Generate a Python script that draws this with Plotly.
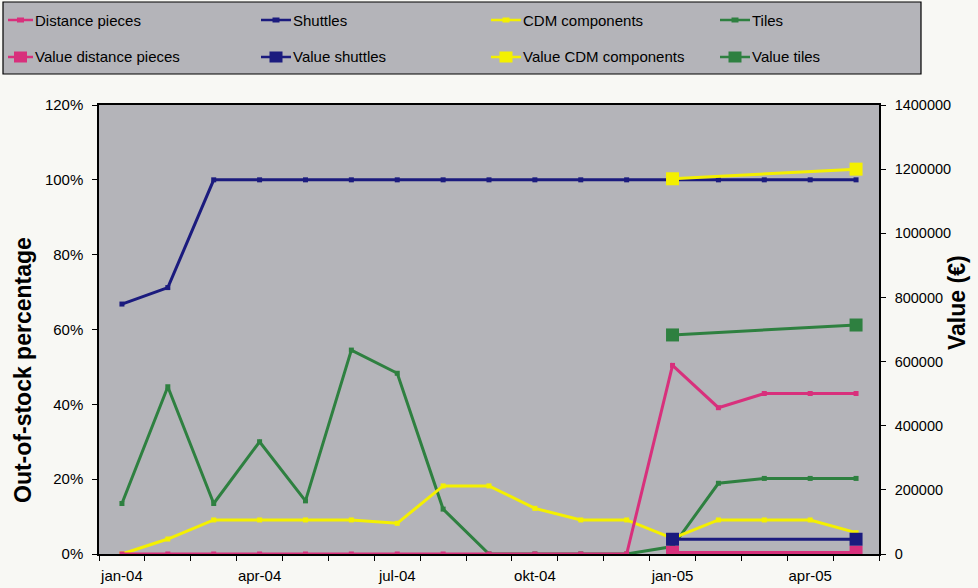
import plotly.graph_objects as go

# Monthly out-of-stock percentages per product group
months = ["jan-04", "feb-04", "mrt-04", "apr-04", "mei-04", "jun-04", "jul-04", "aug-04",
          "sep-04", "okt-04", "nov-04", "dec-04", "jan-05", "feb-05", "mrt-05", "apr-05", "mei-05"]
distance_pieces = [0, 0, 0, 0, 0, 0, 0, 0, 0, 0, 0, 0, 0.504, 0.391, 0.429, 0.429, 0.429]
shuttles = [0.668, 0.712, 1.0, 1.0, 1.0, 1.0, 1.0, 1.0, 1.0, 1.0, 1.0, 1.0, 1.0, 1.0, 1.0, 1.0, 1.0]
cdm_components = [0, 0.04, 0.091, 0.091, 0.091, 0.091, 0.082, 0.182, 0.182, 0.122, 0.091,
                  0.091, 0.042, 0.091, 0.091, 0.091, 0.057]
tiles = [0.135, 0.447, 0.135, 0.30, 0.142, 0.545, 0.483, 0.12, 0, 0, 0, 0, 0.02,
         0.189, 0.202, 0.202, 0.202]

# Stock value (EUR) at the two measurement moments
value_months = ["jan-05", "mei-05"]
value_distance_pieces = [5000, 5000]
value_shuttles = [46000, 46000]
value_cdm_components = [1170000, 1200000]
value_tiles = [683000, 714000]

label_months = months[::3]

PINK = "#D8307C"
NAVY = "#1B1B7E"
YELLOW = "#F4F000"
GREEN = "#2E8040"
PLOT_BG = "#B4B4B9"
FONT = "Liberation Sans, Arial, sans-serif"

W, H = 978, 588
L, R, T, B = 99, 99, 105, 34
PW, PH = W - L - R, H - T - B

idx = {m: i for i, m in enumerate(months)}
x_all = [idx[m] for m in months]
x_val = [idx[m] for m in value_months]

pct_series = [
    ("Distance pieces", distance_pieces, PINK),
    ("Shuttles", shuttles, NAVY),
    ("CDM components", cdm_components, YELLOW),
    ("Tiles", tiles, GREEN),
]
val_series = [
    ("Value distance pieces", value_distance_pieces, PINK),
    ("Value shuttles", value_shuttles, NAVY),
    ("Value CDM components", value_cdm_components, YELLOW),
    ("Value tiles", value_tiles, GREEN),
]

fig = go.Figure()

# percentage lines (left axis), drawn back to front
for name, ys, col in reversed(pct_series):
    fig.add_trace(go.Scatter(
        x=x_all, y=ys, name=name, mode="lines+markers",
        line=dict(color=col, width=3),
        marker=dict(symbol="square", size=5, color=col),
        yaxis="y",
    ))

# value lines (right axis)
for name, ys, col in reversed(val_series):
    fig.add_trace(go.Scatter(
        x=x_val, y=ys, name=name, mode="lines+markers",
        line=dict(color=col, width=3),
        marker=dict(symbol="square", size=13, color=col),
        yaxis="y2",
    ))


def paper_x(px):
    return (px - L) / PW


def paper_y(py):
    return (H - B - py) / PH


# legend box with 4 columns x 2 rows
shapes = [dict(
    type="rect", xref="paper", yref="paper",
    x0=paper_x(3), x1=paper_x(921), y0=paper_y(74), y1=paper_y(2),
    line=dict(color="black", width=1.2), fillcolor=PLOT_BG, layer="below",
)]
annotations = []
col_text_x = [35, 293, 523, 752]
row_y = [20, 57]
for row, group in enumerate([pct_series, val_series]):
    for col, (name, _, color) in enumerate(group):
        tx = col_text_x[col]
        ty = row_y[row]
        x0, x1 = tx - 32, tx - 2
        if col == 0:
            x0 = 8
        shapes.append(dict(
            type="line", xref="paper", yref="paper",
            x0=paper_x(x0), x1=paper_x(x1), y0=paper_y(ty), y1=paper_y(ty),
            line=dict(color=color, width=2.5),
        ))
        xm = (x0 + x1) / 2
        half = 2.5 if row == 0 else 5.5
        shapes.append(dict(
            type="rect", xref="paper", yref="paper",
            x0=paper_x(xm - half - 1), x1=paper_x(xm + half + 1),
            y0=paper_y(ty + half), y1=paper_y(ty - half),
            line=dict(width=0), fillcolor=color,
        ))
        annotations.append(dict(
            text=name, xref="paper", yref="paper",
            x=paper_x(tx - 2), y=paper_y(ty), showarrow=False,
            xanchor="left", yanchor="middle",
            font=dict(family=FONT, size=15, color="black"),
        ))

annotations += [
    dict(text="<b>Out-of-stock percentage</b>", xref="paper", yref="paper",
         x=paper_x(23), y=paper_y(370), textangle=-90, showarrow=False,
         font=dict(family=FONT, size=23, color="black"),
         xanchor="center", yanchor="middle"),
    dict(text="<b>Value (€)</b>", xref="paper", yref="paper",
         x=paper_x(957), y=paper_y(303), textangle=-90, showarrow=False,
         font=dict(family=FONT, size=23, color="black"),
         xanchor="center", yanchor="middle"),
]

fig.update_layout(
    width=W, height=H,
    margin=dict(l=L, r=R, t=T, b=B),
    paper_bgcolor="#F8F8F4",
    plot_bgcolor=PLOT_BG,
    font=dict(family=FONT, size=15, color="black"),
    showlegend=False,
    xaxis=dict(
        range=[-0.5, len(months) - 0.5],
        tickvals=[idx[m] for m in label_months],
        ticktext=label_months,
        ticks="", showgrid=False, zeroline=False,
        showline=True, linecolor="black", linewidth=1.5, mirror=True,
        ticklabelstandoff=7, automargin=False,
        minor=dict(ticks="outside", tick0=0.5, dtick=1, ticklen=5,
                   tickcolor="black", showgrid=False),
        tickfont=dict(family=FONT, size=15),
    ),
    yaxis=dict(
        range=[0, 1.2], dtick=0.2, tickformat=".0%",
        ticks="outside", ticklen=5, tickcolor="black",
        showgrid=False, zeroline=False, automargin=False,
        showline=True, linecolor="black", linewidth=1.5,
        ticklabelstandoff=6,
        tickfont=dict(family=FONT, size=15),
    ),
    yaxis2=dict(
        range=[0, 1400000], dtick=200000, tickformat="d",
        overlaying="y", side="right",
        ticks="outside", ticklen=5, tickcolor="black",
        showgrid=False, zeroline=False, automargin=False,
        showline=True, linecolor="black", linewidth=1.5,
        ticklabelstandoff=6,
        tickfont=dict(family=FONT, size=14.5),
    ),
    shapes=shapes,
    annotations=annotations,
)

fig.write_html("out.html")
